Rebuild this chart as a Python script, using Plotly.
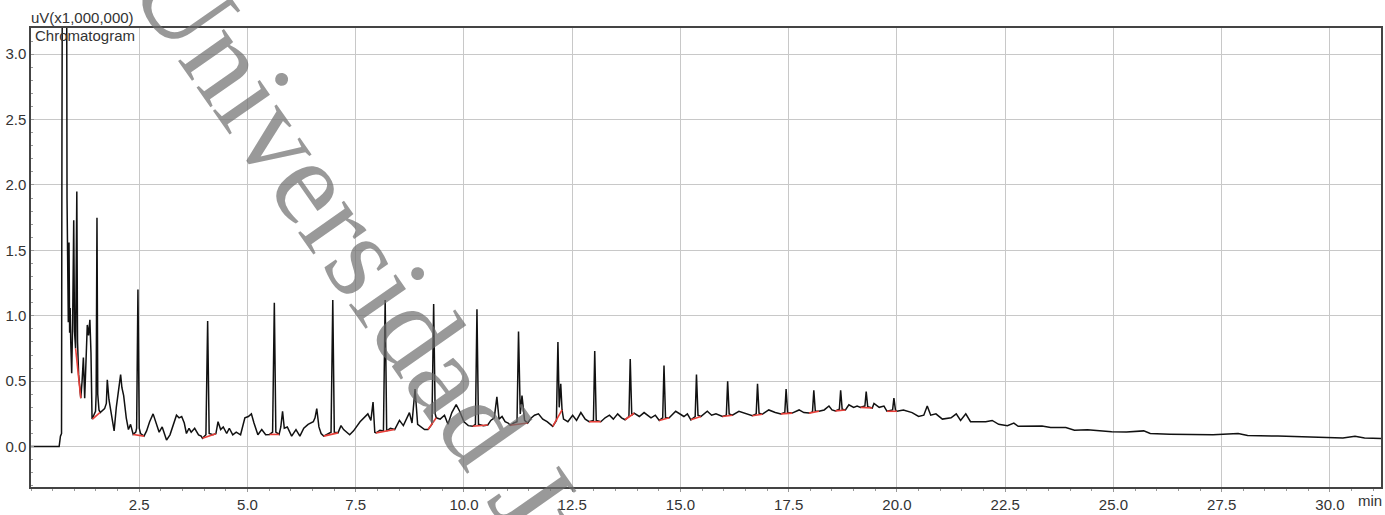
import plotly.graph_objects as go

# ---- chromatogram trace: (time [min], signal [uV x 1e6]) ----
seg_front = [(0.00,0.000),(0.65,0.000),(0.68,0.080),(0.705,0.100),(0.715,2.400),(0.725,3.800),(0.800,3.800),(0.825,3.300),(0.832,1.900),(0.845,1.250),(0.862,0.950),(0.878,1.560),(0.892,0.870),(0.905,1.060),(0.918,0.800),(0.940,0.560),(0.962,0.950),(0.987,1.730),(1.005,0.880),(1.030,0.750),(1.058,1.950),(1.075,0.800),(1.100,0.550),(1.150,0.370),(1.180,0.500),(1.210,0.680),(1.240,0.370),(1.270,0.600),(1.300,0.930),(1.330,0.850),(1.360,0.970),(1.385,0.720),(1.410,0.210),(1.450,0.240),(1.490,0.270),(1.505,0.400),(1.524,1.750),(1.542,0.400),(1.570,0.280),(1.600,0.260),(1.640,0.270),(1.700,0.290)]
seg_early = [(1.740,0.330),(1.762,0.510),(1.800,0.360),(1.850,0.250),(1.920,0.120),(1.970,0.300),(2.000,0.390),(2.040,0.470),(2.070,0.550),(2.100,0.450),(2.140,0.390),(2.200,0.220),(2.250,0.130),(2.300,0.170),(2.360,0.093),(2.420,0.110),(2.440,0.140),(2.470,1.200),(2.500,0.140),(2.530,0.100),(2.570,0.090),(2.610,0.080),(2.670,0.120),(2.740,0.190),(2.820,0.250),(2.880,0.190),(2.960,0.110),(3.030,0.150),(3.130,0.050),(3.210,0.090),(3.280,0.160),(3.360,0.240),(3.420,0.220),(3.480,0.230),(3.540,0.180),(3.590,0.100),(3.650,0.140),(3.700,0.110),(3.780,0.140),(3.870,0.090),(3.930,0.080),(3.960,0.063),(4.040,0.090),(4.080,0.960),(4.115,0.100),(4.200,0.090),(4.270,0.098),(4.320,0.190),(4.380,0.130),(4.440,0.150)]
seg_mid1 = [(4.520,0.100),(4.580,0.140),(4.660,0.090),(4.740,0.110),(4.840,0.090),(4.940,0.220),(5.020,0.230),(5.090,0.250),(5.150,0.180),(5.240,0.090),(5.330,0.130),(5.420,0.090),(5.510,0.093),(5.580,0.110),(5.620,1.100),(5.655,0.110),(5.730,0.093),(5.770,0.150),(5.810,0.270),(5.850,0.140),(5.920,0.150),(6.020,0.080),(6.120,0.130),(6.210,0.080),(6.300,0.140),(6.400,0.170),(6.520,0.190),(6.560,0.220),(6.600,0.290),(6.650,0.150),(6.700,0.100),(6.760,0.080),(6.930,0.110),(6.970,1.120),(7.005,0.110),(7.090,0.105),(7.160,0.160),(7.220,0.130),(7.360,0.090),(7.450,0.120),(7.600,0.190),(7.700,0.220),(7.780,0.250),(7.850,0.200),(7.900,0.340),(7.940,0.110),(7.970,0.105),(8.060,0.125),(8.140,0.120),(8.180,1.120),(8.215,0.120),(8.300,0.140),(8.400,0.130),(8.510,0.200)]
seg_mid2 = [(8.600,0.160),(8.740,0.260),(8.800,0.180),(8.870,0.440),(8.930,0.170),(9.090,0.130),(9.170,0.130),(9.260,0.170),(9.300,1.090),(9.335,0.250),(9.360,0.220),(9.450,0.210),(9.550,0.240),(9.630,0.170),(9.720,0.260),(9.820,0.320),(9.900,0.270),(10.000,0.190),(10.100,0.160),(10.200,0.155),(10.265,0.170),(10.300,1.050),(10.335,0.170),(10.450,0.160),(10.550,0.165),(10.620,0.200),(10.700,0.220),(10.760,0.380),(10.810,0.210),(10.880,0.230),(10.950,0.190),(11.020,0.180),(11.070,0.163),(11.150,0.180),(11.225,0.190),(11.260,0.880),(11.300,0.250),(11.340,0.390),(11.400,0.200),(11.470,0.180),(11.560,0.220),(11.630,0.240),(11.720,0.250),(11.820,0.210),(11.920,0.190),(12.050,0.155),(12.135,0.200),(12.170,0.800),(12.200,0.300),(12.235,0.480),(12.265,0.280),(12.300,0.210),(12.400,0.190)]
seg_late = [(12.510,0.240),(12.600,0.200),(12.700,0.260),(12.800,0.210),(12.890,0.190),(12.990,0.200),(13.020,0.730),(13.055,0.200),(13.160,0.190),(13.260,0.220),(13.360,0.240),(13.450,0.210),(13.550,0.250),(13.640,0.220),(13.720,0.205),(13.810,0.230),(13.840,0.670),(13.875,0.240),(13.930,0.255),(14.050,0.230),(14.160,0.260),(14.320,0.220),(14.420,0.240),(14.510,0.200),(14.590,0.220),(14.620,0.620),(14.655,0.220),(14.740,0.220),(14.890,0.270),(15.080,0.230),(15.160,0.250),(15.240,0.205),(15.340,0.230),(15.370,0.550),(15.405,0.240),(15.470,0.230),(15.620,0.270),(15.720,0.240),(15.820,0.250),(15.970,0.230),(16.060,0.240),(16.090,0.500),(16.125,0.250),(16.200,0.240),(16.350,0.270),(16.510,0.250),(16.660,0.236),(16.750,0.250),(16.780,0.480),(16.815,0.255),(16.890,0.247),(17.040,0.280),(17.190,0.260),(17.320,0.250),(17.410,0.260),(17.440,0.440),(17.475,0.260),(17.580,0.256),(17.740,0.280),(17.850,0.260),(17.970,0.256),(18.050,0.265),(18.080,0.430),(18.115,0.270),(18.200,0.270),(18.320,0.280),(18.430,0.310),(18.500,0.280),(18.580,0.273),(18.670,0.285),(18.700,0.430),(18.735,0.285),(18.810,0.280),(18.890,0.320),(19.000,0.300),(19.080,0.310),(19.160,0.300),(19.260,0.310),(19.290,0.420),(19.325,0.305),(19.430,0.295),(19.470,0.330),(19.590,0.300),(19.700,0.310),(19.770,0.270),(19.900,0.280),(19.930,0.370),(19.965,0.280),(20.000,0.270)]
seg_tail = [(20.150,0.280),(20.350,0.260),(20.500,0.230),(20.620,0.240),(20.700,0.310),(20.780,0.240),(20.900,0.250),(21.050,0.210),(21.250,0.220),(21.370,0.250),(21.470,0.200),(21.590,0.250),(21.700,0.190),(21.900,0.190),(22.050,0.190),(22.200,0.200),(22.350,0.170),(22.550,0.160),(22.700,0.180),(22.800,0.155),(23.100,0.155),(23.350,0.158),(23.550,0.145),(23.900,0.145),(24.100,0.125),(24.400,0.128),(24.960,0.113),(25.300,0.112),(25.700,0.120),(25.850,0.100),(26.300,0.095),(26.800,0.093),(27.300,0.090),(27.880,0.100),(28.100,0.085),(28.800,0.080),(29.300,0.077),(30.000,0.072),(30.300,0.066),(30.580,0.078),(30.800,0.066),(31.180,0.062)]

# ---- integration baselines (red) ----
red_t0 = [1.03, 1.42, 2.36, 3.96, 5.51, 6.76, 7.97, 9.17, 10.20, 11.07, 12.05, 12.89, 13.72, 14.51, 15.24, 15.97, 16.66, 17.32, 17.97, 18.58, 19.16, 19.77]
red_y0 = [0.75, 0.21, 0.093, 0.063, 0.093, 0.08, 0.105, 0.13, 0.155, 0.163, 0.155, 0.19, 0.205, 0.20, 0.205, 0.23, 0.236, 0.25, 0.256, 0.273, 0.30, 0.27]
red_t1 = [1.15, 1.59, 2.61, 4.27, 5.73, 7.09, 8.40, 9.36, 10.55, 11.47, 12.265, 13.16, 13.93, 14.74, 15.47, 16.20, 16.89, 17.58, 18.20, 18.81, 19.43, 20.00]
red_y1 = [0.37, 0.26, 0.08, 0.098, 0.093, 0.105, 0.13, 0.22, 0.165, 0.18, 0.28, 0.19, 0.255, 0.22, 0.23, 0.24, 0.247, 0.256, 0.27, 0.28, 0.295, 0.27]

x_ticks = [2.5, 5.0, 7.5, 10.0, 12.5, 15.0, 17.5, 20.0, 22.5, 25.0, 27.5, 30.0]
y_ticks = [0.0, 0.5, 1.0, 1.5, 2.0, 2.5, 3.0]
x_range = [0, 31.18]
y_range = [-0.309, 3.2]

pts = seg_front + seg_early + seg_mid1 + seg_mid2 + seg_late + seg_tail
t = [p[0] for p in pts]
v = [p[1] for p in pts]

rx, ry = [], []
for a, b, c, d in zip(red_t0, red_y0, red_t1, red_y1):
    rx += [a, c, None]
    ry += [b, d, None]

FONT = "Liberation Sans Narrow, Arial Narrow, Liberation Sans, Arial"

fig = go.Figure()
fig.add_trace(go.Scatter(x=t, y=v, mode="lines", line=dict(color="#111111", width=1.5),
                         showlegend=False, hoverinfo="skip"))
fig.add_trace(go.Scatter(x=rx, y=ry, mode="lines", line=dict(color="#e8403a", width=1.6),
                         showlegend=False, hoverinfo="skip"))

fig.update_layout(
    width=1385, height=515,
    margin=dict(l=31, r=2, t=28, b=22),
    paper_bgcolor="white", plot_bgcolor="white",
    font=dict(family=FONT, size=15, color="#333333"),
    xaxis=dict(range=x_range, tickvals=x_ticks, ticktext=[f"{x:.1f}" for x in x_ticks],
               showgrid=True, gridcolor="#c8c8c8", gridwidth=1,
               showline=True, linecolor="#444444", linewidth=1.5, mirror=True,
               ticks="outside", ticklen=3, tickcolor="#999999",
               minor=dict(dtick=0.5, ticks="outside", ticklen=2, tickcolor="#999999", showgrid=False),
               zeroline=False, tickfont=dict(family=FONT, size=15, color="#333333")),
    yaxis=dict(range=y_range, tickvals=y_ticks, ticktext=[f"{y:.1f}" for y in y_ticks],
               showgrid=True, gridcolor="#c8c8c8", gridwidth=1,
               showline=True, linecolor="#444444", linewidth=1.5, mirror=True,
               ticks="inside", ticklen=3, tickcolor="#999999",
               minor=dict(dtick=0.1, ticks="inside", ticklen=2, tickcolor="#999999", showgrid=False),
               zeroline=False, tickfont=dict(family=FONT, size=15, color="#333333")),
)

fig.add_annotation(text="uV(x1,000,000)", xref="paper", yref="paper", x=0, y=1,
                   xanchor="left", yanchor="bottom", showarrow=False, xshift=-2, yshift=0,
                   font=dict(family=FONT, size=15, color="#333333"))
fig.add_annotation(text="Chromatogram", xref="paper", yref="paper", x=0, y=1,
                   xanchor="left", yanchor="top", showarrow=False, xshift=2, yshift=3,
                   font=dict(family=FONT, size=15, color="#333333"))
fig.add_annotation(text="min", xref="paper", yref="paper", x=0.992, y=0,
                   xanchor="center", yanchor="top", showarrow=False, yshift=-3,
                   font=dict(family=FONT, size=15, color="#333333"))
fig.add_annotation(text="Universidad Juárez", xref="paper", yref="paper", x=0.2945, y=0.306,
                   xanchor="center", yanchor="middle", showarrow=False, textangle=55,
                   font=dict(family="Liberation Serif, Times New Roman, serif", size=122,
                             color="rgba(110,110,110,0.7)"))

fig.write_html("out.html")
